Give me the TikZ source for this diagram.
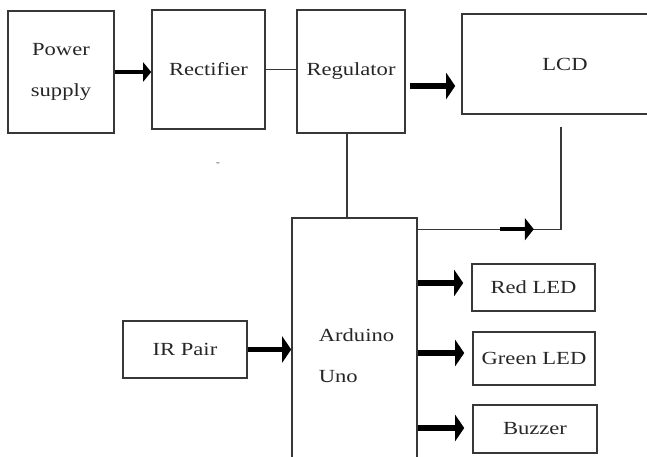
\documentclass[tikz,border=0pt]{standalone}
\usepackage{fontspec}
\setmainfont{Liberation Serif}[FakeStretch=1.22]
\usetikzlibrary{arrows.meta}
\definecolor{boxGray}{RGB}{55,55,55}

\begin{document}
\begin{tikzpicture}[
  x=1pt,
  y=-1pt,
  every node/.style={font=\fontsize{18.5}{22}\selectfont, text=black!85},
  blk/.style={
    draw=boxGray,
    line width=1.6pt,
    inner sep=0pt
  },
  twoline/.style={font=\fontsize{18.5}{41}\selectfont},
  wire/.style={draw=boxGray, line width=1.4pt},
  fat/.style={line width=5.5pt, -{Triangle[length=9pt,width=26pt]}}
]
  \useasboundingbox (0,0) rectangle (647,456);
  \clip (0,0) rectangle (647,456);

  \node[blk, twoline, align=center, minimum width=106pt, minimum height=122pt] (psu) at (61,72) {Power\\supply};
  \node[blk, minimum width=113pt, minimum height=119pt] (rect) at (208.5,69.5) {Rectifier};
  \node[blk, minimum width=108pt, minimum height=123pt] (reg) at (351,71.5) {Regulator};
  \node[blk, minimum width=206pt, minimum height=100pt] (lcd) at (565,64) {LCD};
  \node[blk, twoline, align=left, minimum width=125pt, minimum height=276pt] (ard) at (354.5,356) {\hspace*{4pt}Arduino\\\hspace*{4pt}Uno};
  \node[blk, minimum width=124pt, minimum height=57pt] (ir) at (185,349.5) {IR Pair};
  \node[blk, minimum width=123pt, minimum height=47pt] (red) at (533.5,287.5) {Red LED};
  \node[blk, minimum width=122pt, minimum height=53pt] (green) at (534,358.5) {Green LED};
  \node[blk, minimum width=124pt, minimum height=48pt] (buz) at (535,429) {Buzzer};
  \node[font=\fontsize{9}{9}\selectfont, inner sep=0pt] (mark) at (218,164) {-};

  % supply chain
  \draw[fat, line width=4.5pt, -{Triangle[length=8pt,width=19pt]}] (psu.east) -- (psu.east -| rect.west);
  \draw[wire] (rect.east) -- (rect.east -| reg.west);
  \coordinate (regout) at ([xshift=4pt,yshift=-14.5pt]reg.east);
  \draw[fat] (regout) -- ([xshift=-6pt]regout -| lcd.west);
  \draw[wire] ([xshift=-4pt]reg.south) -- ([xshift=-4pt]reg.south |- ard.north);

  % arduino to lcd
  \coordinate (lcdin) at (561,127);
  \draw[wire] ([yshift=-12pt]ard.north east) -| (lcdin);
  \draw[fat, line width=4.5pt, -{Triangle[length=9pt,width=22pt]}]
    ([xshift=82pt,yshift=-12pt]ard.north east) -- ([xshift=116pt,yshift=-12pt]ard.north east);

  % inputs and outputs
  \draw[fat] (ir.east) -- (ir.east -| ard.west);
  \draw[fat] ([yshift=4.5pt]red.west -| ard.east) -- ([xshift=-8pt,yshift=4.5pt]red.west);
  \draw[fat] ([yshift=5.5pt]green.west -| ard.east) -- ([xshift=-8pt,yshift=5.5pt]green.west);
  \draw[fat] ([yshift=1pt]buz.west -| ard.east) -- ([xshift=-8pt,yshift=1pt]buz.west);
\end{tikzpicture}
\end{document}
